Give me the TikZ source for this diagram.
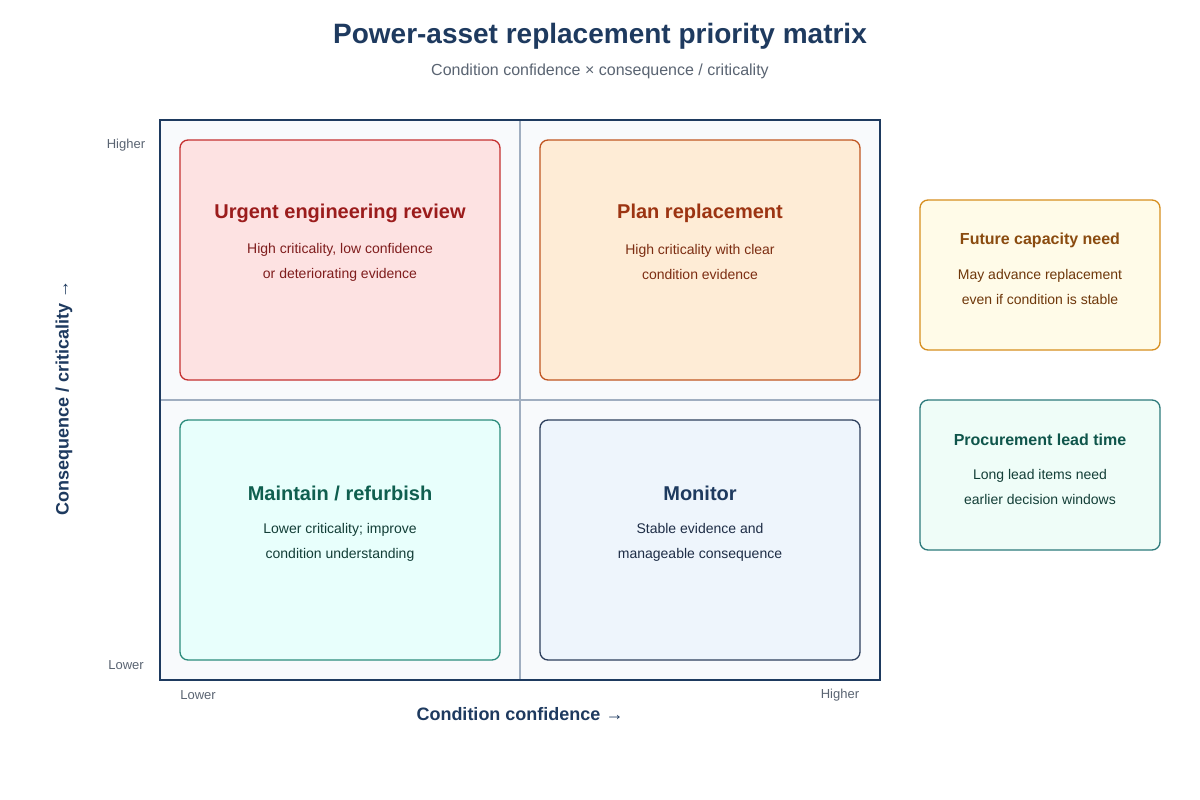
\documentclass[tikz,border=0pt]{standalone}
\usepackage{fontspec}
\setmainfont{Liberation Sans}
\definecolor{navy}{HTML}{1E3A5F}
\definecolor{sub}{HTML}{5A6472}
\definecolor{axg}{HTML}{5A6472}
\definecolor{bgm}{HTML}{F8FAFC}
\definecolor{divc}{HTML}{A0AEC0}
\definecolor{rS}{HTML}{C53030}\definecolor{rF}{HTML}{FDE2E2}\definecolor{rT}{HTML}{9B1C1C}\definecolor{rB}{HTML}{7F1D1D}
\definecolor{oS}{HTML}{C05621}\definecolor{oF}{HTML}{FEECD6}\definecolor{oT}{HTML}{9C3412}\definecolor{oB}{HTML}{7C2D12}
\definecolor{tS}{HTML}{2C8C7C}\definecolor{tF}{HTML}{E8FFFC}\definecolor{tT}{HTML}{0F5F4F}\definecolor{tB}{HTML}{133E37}
\definecolor{bS}{HTML}{2D3F5C}\definecolor{bF}{HTML}{EEF5FC}\definecolor{bB}{HTML}{1E2D46}
\definecolor{yS}{HTML}{D68E1E}\definecolor{yF}{HTML}{FFFBE8}\definecolor{yT}{HTML}{8A4B0F}\definecolor{yB}{HTML}{6E370A}
\definecolor{gS}{HTML}{2C7A7B}\definecolor{gF}{HTML}{EFFDF8}\definecolor{gT}{HTML}{0F554B}
\begin{document}
\begin{tikzpicture}[x=1pt,y=-1pt,
  quad/.style={draw, line width=1.3pt, rounded corners=8pt},
  qt/.style={font=\fontsize{20}{24}\selectfont\bfseries},
  qb/.style={font=\fontsize{14}{25}\selectfont, align=center},
  st/.style={font=\fontsize{16}{20}\selectfont\bfseries},
  ax/.style={font=\fontsize{13}{16}\selectfont, text=axg}]
\useasboundingbox (0,0) rectangle (1200,800);
\fill[white] (0,0) rectangle (1200,800);
\node[font=\fontsize{28}{34}\selectfont\bfseries, text=navy] (title) at (600,36) {Power-asset replacement priority matrix};
\node[font=\fontsize{16}{20}\selectfont, text=sub] (subt) at (600,71) {Condition confidence × consequence / criticality};
\fill[bgm] (160,120) rectangle (880,680);
\draw[divc, line width=1.2pt] (520,120) -- (520,680) (160,400) -- (880,400);
\draw[navy, line width=1.6pt] (160,120) rectangle (880,680);
% quadrants
\draw[quad, draw=rS, fill=rF] (180,140) rectangle (500,380);
\node[qt, text=rT] (q1) at (340,213) {Urgent engineering review};
\node[qb, text=rB] (q1b) at (340,262) {High criticality, low confidence\\or deteriorating evidence};
\draw[quad, draw=oS, fill=oF] (540,140) rectangle (860,380);
\node[qt, text=oT] (q2) at (700,213) {Plan replacement};
\node[qb, text=oB] (q2b) at (700,262) {High criticality with clear\\condition evidence};
\draw[quad, draw=tS, fill=tF] (180,420) rectangle (500,660);
\node[qt, text=tT] (q3) at (340,493) {Maintain / refurbish};
\node[qb, text=tB] (q3b) at (340,542) {Lower criticality; improve\\condition understanding};
\draw[quad, draw=bS, fill=bF] (540,420) rectangle (860,660);
\node[qt, text=navy] (q4) at (700,493) {Monitor};
\node[qb, text=bB] (q4b) at (700,542) {Stable evidence and\\manageable consequence};
% side boxes
\draw[quad, draw=yS, fill=yF] (920,200) rectangle (1160,350);
\node[st, text=yT] (s1) at (1040,240) {Future capacity need};
\node[qb, text=yB] (s1b) at (1040,287) {May advance replacement\\even if condition is stable};
\draw[quad, draw=gS, fill=gF] (920,400) rectangle (1160,550);
\node[st, text=gT] (s2) at (1040,440) {Procurement lead time};
\node[qb, text=tB] (s2b) at (1040,487) {Long lead items need\\earlier decision windows};
% axes
\node[ax] (yh) at (126,145) {Higher};
\node[ax] (yl) at (126,665) {Lower};
\node[ax] (xl) at (198,695) {Lower};
\node[ax] (xh) at (840,695) {Higher};
\node[font=\fontsize{18}{22}\selectfont\bfseries, text=navy] (xlab) at (520,714) {Condition confidence →};
\node[font=\fontsize{18}{22}\selectfont\bfseries, text=navy, rotate=90] (ylab) at (64,398) {Consequence / criticality →};
\end{tikzpicture}
\end{document}
